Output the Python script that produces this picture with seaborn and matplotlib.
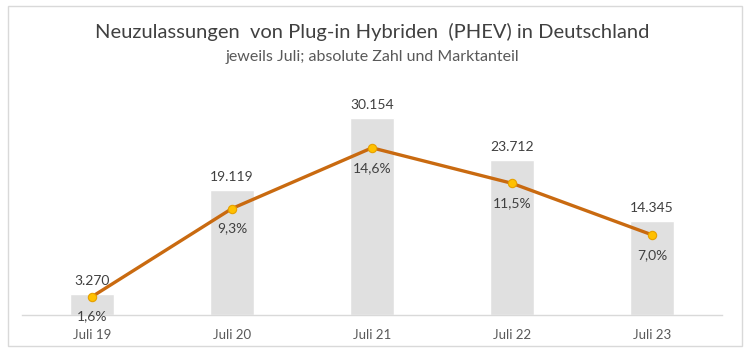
import pandas as pd
import seaborn as sns
import matplotlib.pyplot as plt
from matplotlib.patches import Rectangle

# data
months = ["Juli 19", "Juli 20", "Juli 21", "Juli 22", "Juli 23"]
registrations = [3270, 19119, 30154, 23712, 14345]
share = [1.6, 9.3, 14.6, 11.5, 7.0]

df = pd.DataFrame({"monat": months, "anzahl": registrations, "anteil": share})

sns.set_theme(style="white")
plt.rcParams['font.family'] = ['Lato', 'DejaVu Sans']

fig = plt.figure(figsize=(7.48, 3.62), dpi=100)
fig.patch.set_facecolor("white")

# light frame around the whole chart
fig.patches.append(Rectangle((8 / 748, 1 - 346 / 362), 734 / 748, 340 / 362,
                             transform=fig.transFigure, fill=False,
                             edgecolor="#d9d9d9", linewidth=1))

ax = fig.add_axes([22 / 748, 47 / 362, 700 / 748, 229 / 362])
sns.barplot(data=df, x="monat", y="anzahl", color="#e0e0e0", saturation=1,
            width=0.315, ax=ax)
ax.set_ylim(0, 35000)
ax.set_xlim(-0.5, 4.5)
ax.set_xlabel("")
ax.set_ylabel("")
ax.set_yticks([])
for s in ["top", "left", "right"]:
    ax.spines[s].set_visible(False)
ax.spines["bottom"].set_color("#d9d9d9")
ax.spines["bottom"].set_linewidth(1)
ax.tick_params(axis="x", length=0, pad=10, labelsize=9.5, labelcolor="#595959")

for i, v in enumerate(registrations):
    ax.annotate(f"{v:,}".replace(",", "."), (i, v), xytext=(0, 5),
                textcoords="offset points", ha="center", va="bottom",
                fontsize=10, color="#404040")

# market share on secondary axis
ax2 = ax.twinx()
sns.lineplot(x=list(range(len(months))), y=share, ax=ax2, color="#c96a10",
             linewidth=2.4, marker="o", markersize=6,
             markerfacecolor="#ffc000", markeredgecolor="#e6a000",
             markeredgewidth=0.8)
ax2.set_ylim(0, 20)
ax2.set_yticks([])
ax2.set_ylabel("")
for s in ["top", "left", "right", "bottom"]:
    ax2.spines[s].set_visible(False)

for i, p in enumerate(share):
    ax2.annotate(f"{p:.1f}%".replace(".", ","), (i, p), xytext=(0, -10),
                 textcoords="offset points", ha="center", va="top",
                 fontsize=10, color="#404040")

fig.text(372 / 748, 1 - 32 / 362, "Neuzulassungen  von Plug-in Hybriden  (PHEV) in Deutschland",
         ha="center", va="center", fontsize=14.5, color="#404040")
fig.text(372 / 748, 1 - 57 / 362, "jeweils Juli; absolute Zahl und Marktanteil",
         ha="center", va="center", fontsize=11.5, color="#595959")

plt.savefig("out.png", dpi=100)
plt.close()
